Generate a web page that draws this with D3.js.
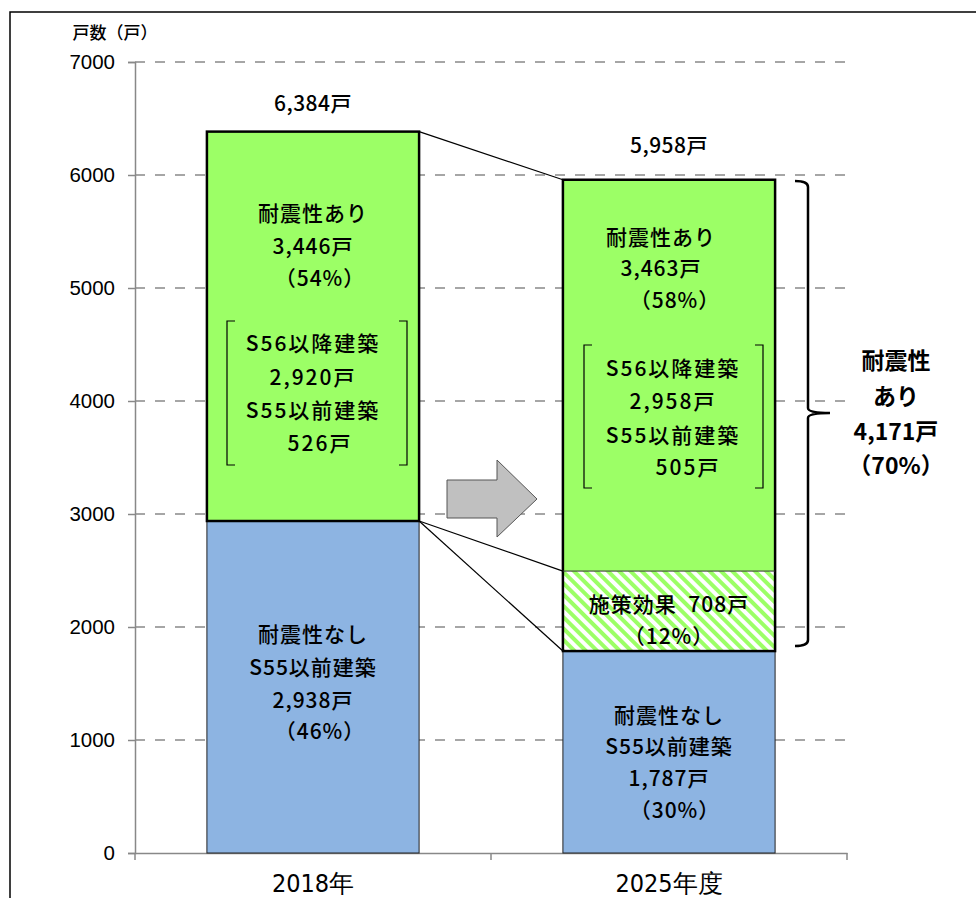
<!DOCTYPE html>
<html>
<head>
<meta charset="utf-8">
<script src="https://cdn.jsdelivr.net/npm/d3@7"></script>
<style>
  body { margin: 0; background: #fff; }
  svg { display: block; }
  text { white-space: pre; }
</style>
</head>
<body>
<svg width="976" height="898"></svg>
<script>
const width = 976;
const height = 898;

// data
const categories = ['2018年', '2025年度'];
const noSeismic = [2938, 1787];      // 耐震性なし
const policyEffect = [0, 708];       // 施策効果
const withSeismic = [3446, 3463];    // 耐震性あり
const totals = [6384, 5958];
const yTicks = [0, 1000, 2000, 3000, 4000, 5000, 6000, 7000];

const greenLabels = [
  ['耐震性あり', '3,446戸', '（54%）'],
  ['耐震性あり', '3,463戸', '（58%）']
];
const bracketLabels = [
  ['S56以降建築', '2,920戸', 'S55以前建築', '526戸'],
  ['S56以降建築', '2,958戸', 'S55以前建築', '505戸']
];
const blueLabels = [
  ['耐震性なし', 'S55以前建築', '2,938戸', '（46%）'],
  ['耐震性なし', 'S55以前建築', '1,787戸', '（30%）']
];
const effectLabels = ['施策効果  708戸', '（12%）'];
const braceLabels = ['耐震性', 'あり', '4,171戸', '（70%）'];

const jp = '"Noto Sans CJK JP", "Noto Sans", sans-serif';

const svg = d3.select('svg');

// pattern for 施策効果
const defs = svg.append('defs');
const pat = defs.append('pattern')
  .attr('id', 'hatch')
  .attr('patternUnits', 'userSpaceOnUse')
  .attr('width', 8).attr('height', 8)
  .attr('patternTransform', 'rotate(-45)');
pat.append('rect').attr('width', 8).attr('height', 8).attr('fill', '#fff');
pat.append('rect').attr('width', 4).attr('height', 8).attr('fill', '#9cff66');

// outer frame
svg.append('rect')
  .attr('x', 10).attr('y', 12)
  .attr('width', 1000).attr('height', 1000)
  .attr('fill', 'none').attr('stroke', '#000').attr('stroke-width', 1.5);

const y = d3.scaleLinear().domain([0, 7000]).range([853, 62]);
const x = d3.scaleBand().domain(categories).range([135, 847]);
const barW = x.bandwidth() * 0.596;
const barX = c => x(c) + (x.bandwidth() - barW) / 2;
const cx = c => x(c) + x.bandwidth() / 2;

// grid
svg.append('g').selectAll('line')
  .data(yTicks.filter(d => d > 0))
  .enter().append('line')
  .attr('x1', 135).attr('x2', 847)
  .attr('y1', d => y(d)).attr('y2', d => y(d))
  .attr('stroke', '#a6a6a6').attr('stroke-width', 2)
  .attr('stroke-dasharray', '10,10');

// y axis
const yAxis = svg.append('g')
  .attr('transform', 'translate(135,0)')
  .call(d3.axisLeft(y).tickValues(yTicks).tickSize(7).tickPadding(13).tickFormat(d3.format('d')));
yAxis.select('.domain').attr('stroke', '#888').attr('stroke-width', 1.5);
yAxis.selectAll('.tick line').attr('stroke', '#888').attr('stroke-width', 1.5);
yAxis.selectAll('text')
  .attr('font-family', '"Liberation Sans", Arial, sans-serif')
  .attr('font-size', 20.5).attr('fill', '#000');

// x axis
const xAxis = svg.append('g')
  .attr('transform', 'translate(0,853)')
  .call(d3.axisBottom(x).tickSize(0).tickPadding(21));
xAxis.select('.domain').attr('stroke', '#888').attr('stroke-width', 1.5);
xAxis.selectAll('text')
  .attr('font-family', '"Liberation Sans Narrow", "DejaVu Sans Condensed", sans-serif')
  .attr('font-size', 25).attr('fill', '#000');
svg.append('g').selectAll('line')
  .data([135, 491, 847])
  .enter().append('line')
  .attr('x1', d => d).attr('x2', d => d)
  .attr('y1', 853).attr('y2', 860)
  .attr('stroke', '#888').attr('stroke-width', 1.5);

svg.append('text')
  .attr('x', 115).attr('y', 39)
  .attr('text-anchor', 'middle')
  .attr('font-family', jp).attr('font-size', 17)
  .attr('font-weight', 500)
  .text('戸数（戸）');

// bars
const bars = svg.append('g');
categories.forEach((c, i) => {
  const b0 = 0, b1 = noSeismic[i], b2 = b1 + policyEffect[i], b3 = b2 + withSeismic[i];
  bars.append('rect')
    .attr('x', barX(c)).attr('y', y(b1))
    .attr('width', barW).attr('height', y(b0) - y(b1))
    .attr('fill', '#8db4e2').attr('stroke', '#222').attr('stroke-width', 1);
  if (policyEffect[i] > 0) {
    bars.append('rect')
      .attr('x', barX(c)).attr('y', y(b2))
      .attr('width', barW).attr('height', y(b1) - y(b2))
      .attr('fill', 'url(#hatch)');
  }
  bars.append('rect')
    .attr('x', barX(c)).attr('y', y(b3))
    .attr('width', barW).attr('height', y(b2) - y(b3))
    .attr('fill', '#9cff66');
  // thick outline around green + effect
  bars.append('rect')
    .attr('x', barX(c)).attr('y', y(b3))
    .attr('width', barW).attr('height', y(b1) - y(b3))
    .attr('fill', 'none').attr('stroke', '#000').attr('stroke-width', 2.5);
  if (policyEffect[i] > 0) {
    bars.append('line')
      .attr('x1', barX(c)).attr('x2', barX(c) + barW)
      .attr('y1', y(b2)).attr('y2', y(b2))
      .attr('stroke', '#333').attr('stroke-width', 1);
  }
});

// connector lines
const c0 = categories[0], c1 = categories[1];
const right0 = barX(c0) + barW, left1 = barX(c1);
const conn = [
  [y(totals[0]), y(totals[1])],
  [y(noSeismic[0]), y(noSeismic[1] + policyEffect[1])],
  [y(noSeismic[0]), y(noSeismic[1])]
];
svg.append('g').selectAll('line')
  .data(conn).enter().append('line')
  .attr('x1', right0).attr('x2', left1)
  .attr('y1', d => d[0]).attr('y2', d => d[1])
  .attr('stroke', '#000').attr('stroke-width', 1.2);

// block arrow
svg.append('path')
  .attr('d', 'M447,480 L497,480 L497,460 L537,499 L497,537 L497,518 L447,518 Z')
  .attr('fill', '#c0c0c0').attr('stroke', '#555').attr('stroke-width', 1);

// brace
svg.append('path')
  .attr('d', 'M795,181 Q808,181 808,187 L808,408 Q808,413 830,413 Q808,413 808,418 L808,640 Q808,646 795,646')
  .attr('fill', 'none').attr('stroke', '#000').attr('stroke-width', 2.5);

// square brackets
function bracket(x0, x1, y0, y1) {
  const g = svg.append('g').attr('fill', 'none').attr('stroke', '#000').attr('stroke-width', 1.2);
  g.append('path').attr('d', `M${x0 + 8},${y0} L${x0},${y0} L${x0},${y1} L${x0 + 8},${y1}`);
  g.append('path').attr('d', `M${x1 - 8},${y0} L${x1},${y0} L${x1},${y1} L${x1 - 8},${y1}`);
}
bracket(227, 407, 321, 465);
bracket(584, 763, 345, 488);

function lines(xc, ys, texts, opts = {}) {
  texts.forEach((t, k) => {
    svg.append('text')
      .attr('x', xc + (opts.dx ? opts.dx[k] : 0)).attr('y', ys[k])
      .attr('text-anchor', 'middle')
      .attr('font-family', jp)
      .attr('font-size', opts.size || 21)
      .attr('font-weight', opts.weight || 500)
      .attr('letter-spacing', opts.ls != null ? opts.ls : 1)
      .text(t);
  });
}

// totals
lines(cx(c0), [111], [d3.format(',')(totals[0]) + '戸'], { ls: 0.5 });
lines(cx(c1), [153], [d3.format(',')(totals[1]) + '戸'], { ls: 0.5 });

// 2018
lines(cx(c0), [221, 254, 286], greenLabels[0], { dx: [0, 0, 7] });
lines(cx(c0), [351, 385, 418, 451], bracketLabels[0], { dx: [0, 0, 0, 7], ls: 2 });
lines(cx(c0), [642, 675, 708, 739], blueLabels[0], { dx: [0, 0, 0, 7] });

// 2025
lines(cx(c1) - 8, [245, 276, 308], greenLabels[1], { dx: [0, 0, 14] });
lines(cx(c1) + 4, [376, 409, 443, 475], bracketLabels[1], { dx: [0, 0, 0, 15], ls: 2 });
lines(cx(c1), [612, 644], effectLabels);
lines(cx(c1), [723, 754, 786, 818], blueLabels[1], { dx: [0, 0, 0, 6] });

// brace label
lines(896, [369, 405, 440, 474], braceLabels, { weight: 'bold', size: 23, ls: 0 });
</script>
</body>
</html>
